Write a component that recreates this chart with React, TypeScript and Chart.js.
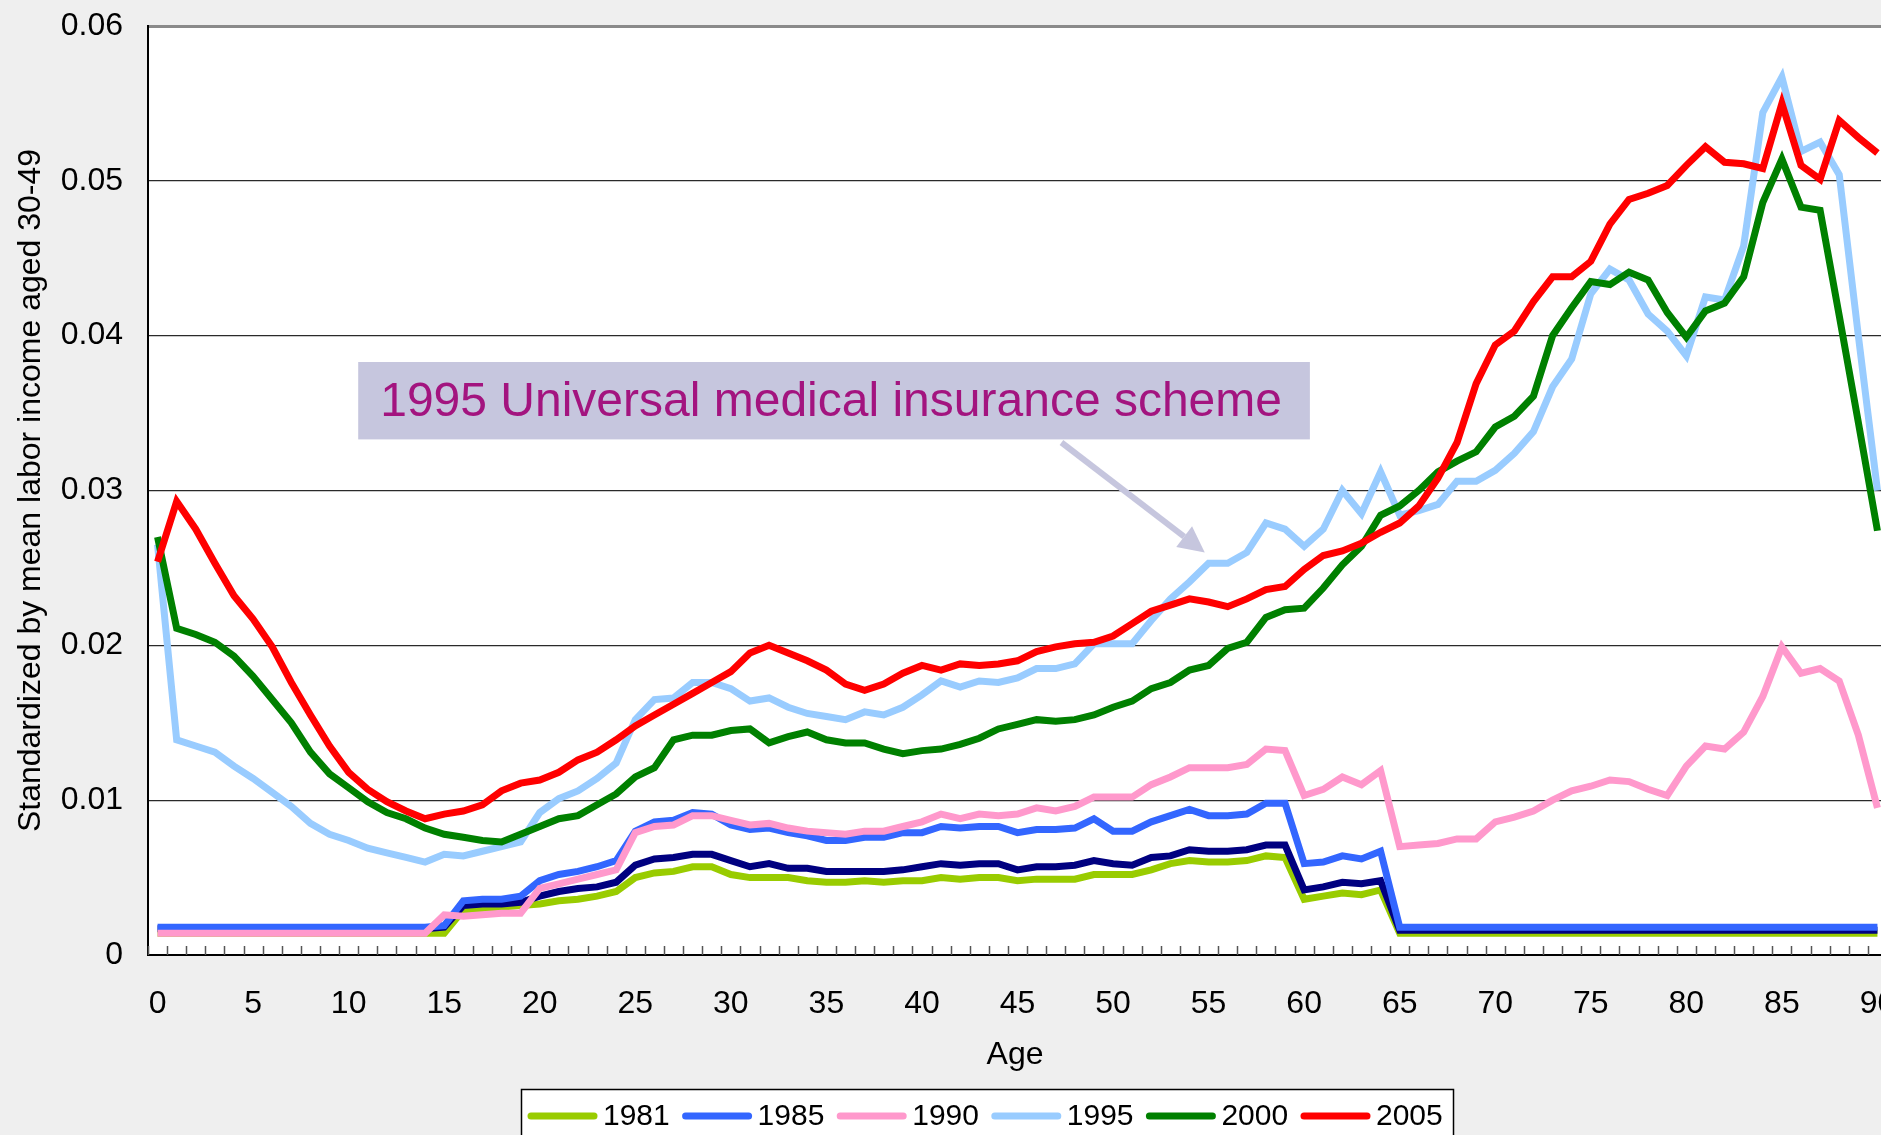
import React, { useEffect, useRef } from 'react';
import { Chart, registerables } from 'chart.js';

Chart.register(...registerables);

const FONT = "'Liberation Sans', Arial, Helvetica, sans-serif";

const AGES = [
  '0', '1', '2', '3', '4', '5', '6', '7', '8', '9',
  '10', '11', '12', '13', '14', '15', '16', '17', '18', '19',
  '20', '21', '22', '23', '24', '25', '26', '27', '28', '29',
  '30', '31', '32', '33', '34', '35', '36', '37', '38', '39',
  '40', '41', '42', '43', '44', '45', '46', '47', '48', '49',
  '50', '51', '52', '53', '54', '55', '56', '57', '58', '59',
  '60', '61', '62', '63', '64', '65', '66', '67', '68', '69',
  '70', '71', '72', '73', '74', '75', '76', '77', '78', '79',
  '80', '81', '82', '83', '84', '85', '86', '87', '88', '89',
  '90',
];

const Y_TICKS = [0, 0.01, 0.02, 0.03, 0.04, 0.05, 0.06];

const S1981 = [
  0.0014, 0.0014, 0.0014, 0.0014, 0.0014, 0.0014, 0.0014, 0.0014, 0.0014, 0.0014,
  0.0014, 0.0014, 0.0014, 0.0014, 0.0014, 0.0014, 0.0029, 0.0030, 0.0031, 0.0032,
  0.0033, 0.0035, 0.0036, 0.0038, 0.0041, 0.0050, 0.0053, 0.0054, 0.0057, 0.0057,
  0.0052, 0.0050, 0.0050, 0.0050, 0.0048, 0.0047, 0.0047, 0.0048, 0.0047, 0.0048,
  0.0048, 0.0050, 0.0049, 0.0050, 0.0050, 0.0048, 0.0049, 0.0049, 0.0049, 0.0052,
  0.0052, 0.0052, 0.0055, 0.0059, 0.0061, 0.0060, 0.0060, 0.0061, 0.0064, 0.0063,
  0.0036, 0.0038, 0.0040, 0.0039, 0.0042, 0.0014, 0.0014, 0.0014, 0.0014, 0.0014,
  0.0014, 0.0014, 0.0014, 0.0014, 0.0014, 0.0014, 0.0014, 0.0014, 0.0014, 0.0014,
  0.0014, 0.0014, 0.0014, 0.0014, 0.0014, 0.0014, 0.0014, 0.0014, 0.0014, 0.0014,
  0.0014,
];

const SNAVY = [
  0.0017, 0.0017, 0.0017, 0.0017, 0.0017, 0.0017, 0.0017, 0.0017, 0.0017, 0.0017,
  0.0017, 0.0017, 0.0017, 0.0017, 0.0017, 0.0018, 0.0032, 0.0033, 0.0033, 0.0034,
  0.0038, 0.0041, 0.0043, 0.0044, 0.0047, 0.0058, 0.0062, 0.0063, 0.0065, 0.0065,
  0.0061, 0.0057, 0.0059, 0.0056, 0.0056, 0.0054, 0.0054, 0.0054, 0.0054, 0.0055,
  0.0057, 0.0059, 0.0058, 0.0059, 0.0059, 0.0055, 0.0057, 0.0057, 0.0058, 0.0061,
  0.0059, 0.0058, 0.0063, 0.0064, 0.0068, 0.0067, 0.0067, 0.0068, 0.0071, 0.0071,
  0.0042, 0.0044, 0.0047, 0.0046, 0.0048, 0.0016, 0.0016, 0.0016, 0.0016, 0.0016,
  0.0016, 0.0016, 0.0016, 0.0016, 0.0016, 0.0016, 0.0016, 0.0016, 0.0016, 0.0016,
  0.0016, 0.0016, 0.0016, 0.0016, 0.0016, 0.0016, 0.0016, 0.0016, 0.0016, 0.0016,
  0.0016,
];

const S1985 = [
  0.0018, 0.0018, 0.0018, 0.0018, 0.0018, 0.0018, 0.0018, 0.0018, 0.0018, 0.0018,
  0.0018, 0.0018, 0.0018, 0.0018, 0.0018, 0.0019, 0.0035, 0.0036, 0.0036, 0.0038,
  0.0048, 0.0052, 0.0054, 0.0057, 0.0061, 0.0080, 0.0086, 0.0087, 0.0092, 0.0091,
  0.0084, 0.0081, 0.0082, 0.0079, 0.0077, 0.0074, 0.0074, 0.0076, 0.0076, 0.0079,
  0.0079, 0.0083, 0.0082, 0.0083, 0.0083, 0.0079, 0.0081, 0.0081, 0.0082, 0.0088,
  0.0080, 0.0080, 0.0086, 0.0090, 0.0094, 0.0090, 0.0090, 0.0091, 0.0098, 0.0098,
  0.0059, 0.0060, 0.0064, 0.0062, 0.0067, 0.0018, 0.0018, 0.0018, 0.0018, 0.0018,
  0.0018, 0.0018, 0.0018, 0.0018, 0.0018, 0.0018, 0.0018, 0.0018, 0.0018, 0.0018,
  0.0018, 0.0018, 0.0018, 0.0018, 0.0018, 0.0018, 0.0018, 0.0018, 0.0018, 0.0018,
  0.0018,
];

const S1990 = [
  0.0014, 0.0014, 0.0014, 0.0014, 0.0014, 0.0014, 0.0014, 0.0014, 0.0014, 0.0014,
  0.0014, 0.0014, 0.0014, 0.0014, 0.0014, 0.0026, 0.0025, 0.0026, 0.0027, 0.0027,
  0.0043, 0.0046, 0.0049, 0.0052, 0.0055, 0.0079, 0.0083, 0.0084, 0.0090, 0.0090,
  0.0087, 0.0084, 0.0085, 0.0082, 0.0080, 0.0079, 0.0078, 0.0080, 0.0080, 0.0083,
  0.0086, 0.0091, 0.0088, 0.0091, 0.0090, 0.0091, 0.0095, 0.0093, 0.0096, 0.0102,
  0.0102, 0.0102, 0.0110, 0.0115, 0.0121, 0.0121, 0.0121, 0.0123, 0.0133, 0.0132,
  0.0103, 0.0107, 0.0115, 0.0110, 0.0119, 0.0070, 0.0071, 0.0072, 0.0075, 0.0075,
  0.0086, 0.0089, 0.0093, 0.0100, 0.0106, 0.0109, 0.0113, 0.0112, 0.0107, 0.0103,
  0.0122, 0.0135, 0.0133, 0.0144, 0.0167, 0.0199, 0.0182, 0.0185, 0.0177, 0.0142,
  0.0095,
];

const S1995 = [
  0.0265, 0.0139, 0.0135, 0.0131, 0.0122, 0.0114, 0.0105, 0.0096, 0.0085, 0.0078,
  0.0074, 0.0069, 0.0066, 0.0063, 0.0060, 0.0065, 0.0064, 0.0067, 0.0070, 0.0073,
  0.0092, 0.0101, 0.0106, 0.0114, 0.0124, 0.0152, 0.0165, 0.0166, 0.0176, 0.0176,
  0.0172, 0.0164, 0.0166, 0.0160, 0.0156, 0.0154, 0.0152, 0.0157, 0.0155, 0.0160,
  0.0168, 0.0177, 0.0173, 0.0177, 0.0176, 0.0179, 0.0185, 0.0185, 0.0188, 0.0201,
  0.0201, 0.0201, 0.0216, 0.0230, 0.0241, 0.0253, 0.0253, 0.0260, 0.0279, 0.0275,
  0.0264, 0.0275, 0.0300, 0.0285, 0.0312, 0.0284, 0.0287, 0.0291, 0.0306, 0.0306,
  0.0313, 0.0324, 0.0338, 0.0367, 0.0385, 0.0427, 0.0443, 0.0436, 0.0414, 0.0403,
  0.0387, 0.0425, 0.0423, 0.0458, 0.0544, 0.0567, 0.0519, 0.0525, 0.0504, 0.0400,
  0.0300,
];

const S2000 = [
  0.0270, 0.0211, 0.0207, 0.0202, 0.0193, 0.0180, 0.0165, 0.0150, 0.0131, 0.0117,
  0.0108, 0.0099, 0.0092, 0.0088, 0.0082, 0.0078, 0.0076, 0.0074, 0.0073, 0.0078,
  0.0083, 0.0088, 0.0090, 0.0097, 0.0104, 0.0115, 0.0121, 0.0139, 0.0142, 0.0142,
  0.0145, 0.0146, 0.0137, 0.0141, 0.0144, 0.0139, 0.0137, 0.0137, 0.0133, 0.0130,
  0.0132, 0.0133, 0.0136, 0.0140, 0.0146, 0.0149, 0.0152, 0.0151, 0.0152, 0.0155,
  0.0160, 0.0164, 0.0172, 0.0176, 0.0184, 0.0187, 0.0198, 0.0202, 0.0218, 0.0223,
  0.0224, 0.0237, 0.0252, 0.0264, 0.0284, 0.0290, 0.0300, 0.0312, 0.0319, 0.0325,
  0.0341, 0.0348, 0.0361, 0.0400, 0.0418, 0.0435, 0.0433, 0.0441, 0.0436, 0.0415,
  0.0399, 0.0416, 0.0421, 0.0438, 0.0486, 0.0514, 0.0483, 0.0481, 0.0413, 0.0344,
  0.0274,
];

const S2005 = [
  0.0254, 0.0293, 0.0275, 0.0253, 0.0232, 0.0217, 0.0199, 0.0176, 0.0155, 0.0135,
  0.0118, 0.0107, 0.0099, 0.0093, 0.0088, 0.0091, 0.0093, 0.0097, 0.0106, 0.0111,
  0.0113, 0.0118, 0.0126, 0.0131, 0.0139, 0.0148, 0.0155, 0.0162, 0.0169, 0.0176,
  0.0183, 0.0195, 0.0200, 0.0195, 0.0190, 0.0184, 0.0175, 0.0171, 0.0175, 0.0182,
  0.0187, 0.0184, 0.0188, 0.0187, 0.0188, 0.0190, 0.0196, 0.0199, 0.0201, 0.0202,
  0.0206, 0.0214, 0.0222, 0.0226, 0.0230, 0.0228, 0.0225, 0.0230, 0.0236, 0.0238,
  0.0249, 0.0258, 0.0261, 0.0266, 0.0273, 0.0279, 0.0290, 0.0308, 0.0331, 0.0369,
  0.0394, 0.0403, 0.0422, 0.0438, 0.0438, 0.0448, 0.0472, 0.0488, 0.0492, 0.0497,
  0.0510, 0.0522, 0.0512, 0.0511, 0.0508, 0.0550, 0.0510, 0.0501, 0.0539, 0.0528,
  0.0518,
];

// [label, values, color, showInLegend, drawOrder (lower = on top)]
const SERIES: [string, number[], string, boolean, number][] = [
  ['1981', S1981, '#99cc00', true, 7],
  ['', SNAVY, '#000080', false, 6],
  ['1985', S1985, '#3366ff', true, 5],
  ['1990', S1990, '#ff99cc', true, 4],
  ['1995', S1995, '#99ccff', true, 3],
  ['2000', S2000, '#008000', true, 2],
  ['2005', S2005, '#ff0000', true, 1],
];

const Y_TITLE = 'Standardized by mean labor income aged 30-49';
const X_TITLE = 'Age';

const NOTE_TEXT = '1995 Universal medical insurance scheme';
// annotation anchored in data space: [ageFrom, ageTo, valueTop, valueBottom]
const NOTE_BOX = [10.5, 60.3, 0.0383, 0.0333];
// arrow: [tailAge, tailValue, tipAge, tipValue]
const NOTE_ARROW = [47.3, 0.0331, 54.8, 0.0260];

const decor = {
  id: 'decor',
  beforeDraw(chart: any) {
    const { ctx, chartArea: a } = chart;
    ctx.save();
    ctx.fillStyle = '#ffffff';
    ctx.fillRect(a.left, a.top, a.right - a.left, a.bottom - a.top);
    ctx.restore();
  },
  afterDatasetsDraw(chart: any) {
    const { ctx, chartArea: a, scales } = chart;
    const xs = scales.x;
    // inward tick marks on the category axis, between categories
    ctx.save();
    ctx.strokeStyle = '#555';
    ctx.lineWidth = 1.5;
    ctx.beginPath();
    for (let i = 0; i <= AGES.length; i++) {
      const px = Math.round(xs.getPixelForValue(i - 0.5)) + 0.5;
      ctx.moveTo(px, a.bottom);
      ctx.lineTo(px, a.bottom - 9);
    }
    ctx.stroke();
    ctx.restore();
  },
  afterDraw(chart: any) {
    const { ctx, chartArea: a, scales } = chart;
    const xs = scales.x;
    const ys = scales.y;
    ctx.save();
    // axis titles
    ctx.fillStyle = '#000';
    ctx.font = `32px ${FONT}`;
    ctx.textAlign = 'center';
    ctx.textBaseline = 'middle';
    ctx.save();
    ctx.translate(31, (a.top + a.bottom) / 2);
    ctx.rotate(-Math.PI / 2);
    ctx.fillText(Y_TITLE, 0, 0);
    ctx.restore();
    ctx.fillText(X_TITLE, 1015, 1055);

    // annotation box
    const bx0 = xs.getPixelForValue(NOTE_BOX[0]);
    const bx1 = xs.getPixelForValue(NOTE_BOX[1]);
    const by0 = ys.getPixelForValue(NOTE_BOX[2]);
    const by1 = ys.getPixelForValue(NOTE_BOX[3]);
    ctx.fillStyle = '#c6c6de';
    ctx.fillRect(bx0, by0, bx1 - bx0, by1 - by0);
    ctx.fillStyle = '#a3147f';
    ctx.font = `48px ${FONT}`;
    ctx.textAlign = 'left';
    ctx.textBaseline = 'middle';
    ctx.fillText(NOTE_TEXT, bx0 + 22, (by0 + by1) / 2 + 2);

    // arrow
    const tx = xs.getPixelForValue(NOTE_ARROW[0]);
    const ty = ys.getPixelForValue(NOTE_ARROW[1]);
    const hx = xs.getPixelForValue(NOTE_ARROW[2]);
    const hy = ys.getPixelForValue(NOTE_ARROW[3]);
    const ang = Math.atan2(hy - ty, hx - tx);
    const headLen = 26;
    const headW = 13;
    const bx = hx - headLen * Math.cos(ang);
    const byy = hy - headLen * Math.sin(ang);
    ctx.strokeStyle = '#c6c6de';
    ctx.lineWidth = 6;
    ctx.beginPath();
    ctx.moveTo(tx, ty);
    ctx.lineTo(bx, byy);
    ctx.stroke();
    ctx.fillStyle = '#c6c6de';
    ctx.beginPath();
    ctx.moveTo(hx, hy);
    ctx.lineTo(bx + headW * Math.sin(ang), byy - headW * Math.cos(ang));
    ctx.lineTo(bx - headW * Math.sin(ang), byy + headW * Math.cos(ang));
    ctx.closePath();
    ctx.fill();

    // legend (first row visible; box runs past the bottom edge)
    const lx = 521;
    const ly = 1089;
    ctx.fillStyle = '#ffffff';
    ctx.fillRect(lx, ly, 932, 80);
    ctx.strokeStyle = '#000';
    ctx.lineWidth = 1.5;
    ctx.strokeRect(lx + 0.5, ly + 0.5, 932, 80);
    ctx.font = `30px ${FONT}`;
    ctx.textAlign = 'left';
    ctx.textBaseline = 'middle';
    const items = SERIES.filter((s) => s[3]);
    items.forEach((s, i) => {
      const x0 = lx + 10 + i * 154.6;
      const yy = 1116;
      ctx.strokeStyle = s[2];
      ctx.lineWidth = 7;
      ctx.lineCap = 'round';
      ctx.beginPath();
      ctx.moveTo(x0, yy);
      ctx.lineTo(x0 + 63, yy);
      ctx.stroke();
      ctx.fillStyle = '#000';
      ctx.fillText(s[0], x0 + 72, yy + 1);
    });
    ctx.restore();
  },
};

export default function App() {
  const ref = useRef<HTMLCanvasElement>(null);
  useEffect(() => {
    const canvas = ref.current;
    if (!canvas) return;
    const chart = new Chart(canvas, {
      type: 'line',
      data: {
        labels: AGES,
        datasets: SERIES.map(([label, values, color, , order]) => ({
          label,
          data: values,
          borderColor: color,
          backgroundColor: color,
          order,
        })),
      },
      options: {
        responsive: false,
        animation: false,
        devicePixelRatio: 1,
        layout: { padding: { top: 26, left: 0, right: 0, bottom: 0 } },
        plugins: { legend: { display: false }, tooltip: { enabled: false } },
        elements: {
          point: { radius: 0, hoverRadius: 0 },
          line: { tension: 0, borderWidth: 7, borderJoinStyle: 'miter', borderCapStyle: 'butt' },
        },
        scales: {
          x: {
            type: 'category',
            offset: true,
            grid: { display: false, drawOnChartArea: false, drawTicks: false },
            border: { display: true, color: '#000', width: 2 },
            ticks: {
              autoSkip: false,
              maxRotation: 0,
              minRotation: 0,
              padding: 30,
              color: '#000',
              font: { size: 32, family: FONT },
              callback: (_v: any, i: number) => (Number(AGES[i]) % 5 === 0 ? AGES[i] : ''),
            },
            afterFit: (s: any) => {
              s.height = 180;
              s.paddingLeft = 0;
              s.paddingRight = 0;
            },
          },
          y: {
            min: 0,
            max: 0.06,
            afterBuildTicks: (s: any) => {
              s.ticks = Y_TICKS.map((v) => ({ value: v }));
            },
            ticks: {
              padding: 25,
              color: '#000',
              font: { size: 32, family: FONT },
              callback: (v: any) => (v === 0 ? '0' : Number(v).toFixed(2)),
            },
            grid: {
              drawTicks: false,
              color: (c: any) => (c.tick && Math.abs(c.tick.value - 0.06) < 1e-9 ? '#8a8a8a' : '#2a2a2a'),
              lineWidth: (c: any) => (c.tick && Math.abs(c.tick.value - 0.06) < 1e-9 ? 3 : 1.3),
            },
            border: { display: true, color: '#000', width: 2 },
            afterFit: (s: any) => {
              s.width = 148;
              s.paddingTop = 0;
              s.paddingBottom = 0;
            },
          },
        },
      },
      plugins: [decor],
    } as any);
    return () => chart.destroy();
  }, []);

  return (
    <div
      style={{
        position: 'fixed',
        left: 0,
        top: 0,
        width: 1881,
        height: 1135,
        overflow: 'hidden',
        background: '#efefef',
      }}
    >
      <canvas ref={ref} width={1887} height={1135} style={{ display: 'block' }} />
    </div>
  );
}
